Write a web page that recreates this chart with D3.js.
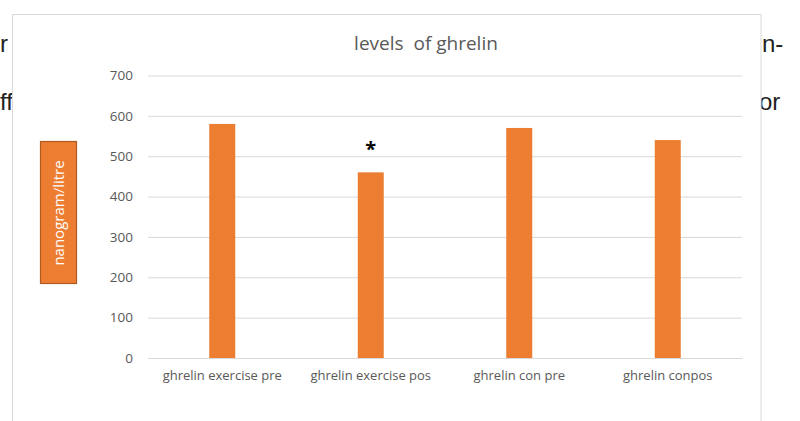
<!DOCTYPE html>
<html><head><meta charset="utf-8">
<script src="https://cdn.jsdelivr.net/npm/d3@7"></script>
<style>html,body{margin:0;padding:0;background:#fff;overflow:hidden}</style>
</head><body>
<svg id="c" width="800" height="421"></svg>
<script>
const categories = ["ghrelin exercise pre", "ghrelin exercise pos", "ghrelin con pre", "ghrelin conpos"];
const values = [580, 460, 570, 540];
const marks = ["", "*", "", ""];
const yTicks = [0, 100, 200, 300, 400, 500, 600, 700];
const title = "levels  of ghrelin";
const yTitle = "nanogram/litre";

const svg = d3.select("#c");
const font = "'Open Sans', sans-serif";
const grey = "#595959";

// background document text fragments
const docText = [
  {t:"r", x:0, y:52}, {t:"ff", x:0, y:110},
  {t:"n-", x:762, y:52}, {t:"or", x:759, y:110}
];
svg.selectAll("text.doc").data(docText).join("text").attr("class","doc")
  .attr("x", d=>d.x).attr("y", d=>d.y)
  .attr("font-family","'Liberation Sans', Arial, sans-serif").attr("font-size", 24)
  .attr("fill","#222").text(d=>d.t);

// chart area
svg.append("rect").attr("x",12.5).attr("y",14.5).attr("width",748.5).attr("height",420)
  .attr("fill","#fff").attr("stroke","#d9d9d9").attr("stroke-width",1);

const x = d3.scaleBand().domain(categories).range([148, 742]).paddingInner(0.825).paddingOuter(0.4125);
const y = d3.scaleLinear().domain([0, 700]).range([358, 75.5]);

const yAxis = d3.axisLeft(y).tickValues(yTicks).tickSize(-(742-148)).tickPadding(15);
const gy = svg.append("g").attr("transform","translate(148,0)").call(yAxis);
gy.select(".domain").remove();
gy.selectAll(".tick line").attr("stroke","#d9d9d9");
gy.selectAll(".tick text").attr("fill",grey).attr("font-family",font).attr("font-size",13.5).attr("x",-15);

const xAxis = d3.axisBottom(x).tickSize(0).tickPadding(13);
const gx = svg.append("g").attr("transform","translate(0,358)").call(xAxis);
gx.select(".domain").attr("stroke","#d9d9d9");
gx.selectAll(".tick text").attr("fill",grey).attr("font-family",font).attr("font-size",13);

svg.selectAll("rect.bar").data(values).join("rect").attr("class","bar")
  .attr("x",(d,i)=>x(categories[i])).attr("width",x.bandwidth())
  .attr("y",d=>y(d)).attr("height",d=>y(0)-y(d)).attr("fill","#ED7D31");

svg.selectAll("text.mark").data(marks).join("text").attr("class","mark")
  .attr("x",(d,i)=>x(categories[i])+x.bandwidth()/2).attr("y",(d,i)=>y(values[i])-16)
  .attr("text-anchor","middle").attr("font-family",font).attr("font-size",20).attr("font-weight","bold")
  .attr("fill","#000").text(d=>d);

svg.append("text").attr("x",426).attr("y",50).attr("text-anchor","middle")
  .attr("font-family",font).attr("font-size",19).attr("fill",grey)
  .style("white-space","pre").attr("xml:space","preserve").text(title);

svg.append("rect").attr("x",40.5).attr("y",141.5).attr("width",36).attr("height",142)
  .attr("fill","#ED7D31").attr("stroke","#AE5A21").attr("stroke-width",1.2);
svg.append("text").attr("transform","translate(64,213) rotate(-90)").attr("text-anchor","middle")
  .attr("font-family",font).attr("font-size",15).attr("fill","#fff").text(yTitle);
</script>
</body></html>
